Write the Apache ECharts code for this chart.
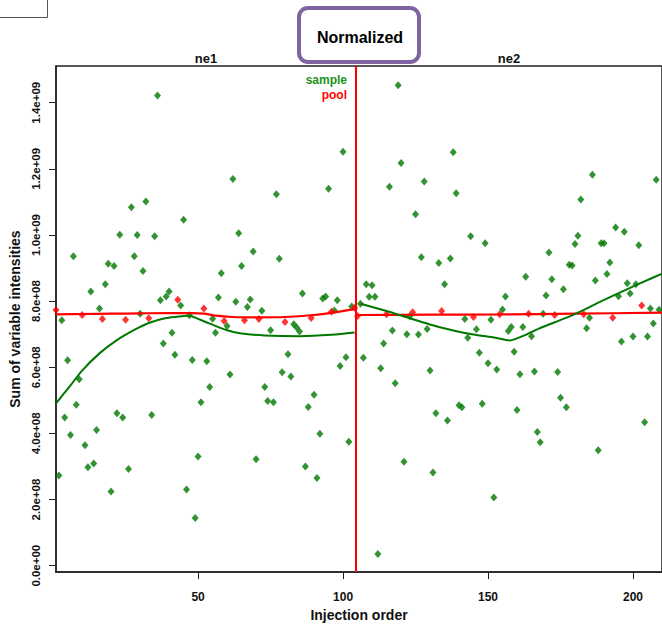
<!DOCTYPE html>
<html><head><meta charset="utf-8">
<script src="https://cdn.jsdelivr.net/npm/echarts@6/dist/echarts.min.js"></script>
<style>html,body{margin:0;padding:0;background:#fff}#c{width:662px;height:627px}</style>
</head><body><div id="c"></div>
<script>
// ---- data (values in units of 1e8) ----
const sampleOrder = [2,3,4,5,6,7,8,9,11,12,13,14,15,16,18,19,20,21,22,23,24,26,27,28,29,30,31,32,34,35,36,37,38,39,40,41,42,44,45,46,47,48,49,50,51,53,54,55,56,57,58,60,61,62,63,64,65,67,68,69,70,72,73,74,75,76,77,78,79,81,82,83,84,85,86,87,88,90,91,92,93,94,95,97,98,99,100,101,102,103,
  106,107,108,109,110,111,112,113,114,116,117,118,119,120,121,122,123,125,126,127,128,129,130,131,132,133,135,136,137,138,139,140,141,142,143,144,146,147,148,149,150,151,152,153,155,156,157,158,159,160,161,162,163,165,166,167,168,169,170,171,172,174,175,176,177,178,179,180,181,182,184,185,186,187,188,189,190,191,192,194,195,196,197,198,199,200,201,202,204,205,206,207,208,209];
const sampleValue = [2.73,7.42,4.48,6.21,3.95,9.36,4.87,5.64,3.64,2.98,8.29,3.09,4.10,7.78,8.51,9.13,2.24,9.06,4.61,10.01,4.48,2.92,10.84,9.36,10.00,7.62,8.91,11.01,4.56,9.96,14.22,8.03,6.72,8.14,8.29,7.04,6.38,7.87,10.46,2.30,7.57,6.22,1.44,3.30,4.94,6.18,5.40,7.47,7.04,8.11,8.84,7.25,5.78,11.69,7.98,10.05,9.06,7.82,8.05,9.50,3.22,7.71,5.40,4.98,7.12,4.94,11.23,9.28,5.85,6.39,5.72,7.30,7.20,7.08,8.23,3.00,4.80,5.17,2.65,3.99,8.08,8.14,11.40,7.72,8.03,6.04,12.52,6.30,3.75,7.84,
  7.92,6.29,8.51,8.13,8.48,8.13,0.35,5.97,6.72,11.46,7.11,5.52,14.53,12.18,3.14,7.00,7.54,10.63,6.99,9.33,11.62,7.16,5.90,2.82,4.61,9.15,8.51,4.39,9.29,12.50,11.26,4.85,4.79,7.46,6.89,9.96,7.15,6.44,4.90,9.75,6.12,7.44,2.06,5.93,7.75,8.14,7.10,7.22,6.47,4.71,5.79,7.22,8.74,6.94,5.87,4.04,3.73,7.62,8.17,9.47,8.66,5.86,5.08,8.36,4.79,9.10,9.08,9.73,9.98,11.07,7.18,7.50,11.82,8.62,3.49,9.75,9.75,8.82,9.17,10.23,8.15,6.78,10.10,8.54,8.23,6.93,8.51,9.69,4.34,6.93,7.78,7.32,11.67,7.74];
const poolOrder = [1,10,17,25,33,43,52,59,66,71,80,89,96,104,105,115,124,134,145,154,164,173,183,193,203];
const poolValue = [7.73,7.58,7.46,7.44,7.48,8.04,7.78,7.40,7.42,7.46,7.37,7.49,7.68,7.80,7.55,7.60,7.66,7.70,7.52,7.60,7.62,7.58,7.60,7.50,7.87];
// fitted trends
const sampleTrendOrder1 = [1,3,6,10,16,22,28,33,39,45,47,49,54,60,65,73,85,96,104];
const sampleTrendValue1 = [4.91,5.13,5.45,5.90,6.42,6.82,7.13,7.34,7.49,7.55,7.56,7.50,7.32,7.12,7.02,6.96,6.94,6.98,7.05];
const sampleTrendOrder2 = [106,115,122,133,145,152,157.5,163,167.5,173,179,185,190,196,202,210];
const sampleTrendValue2 = [7.92,7.70,7.51,7.22,6.99,6.90,6.81,6.98,7.17,7.36,7.57,7.82,8.04,8.28,8.52,8.83];
const poolTrendOrder1 = [1,10,20,30,40,48,52,56,62,70,80,90,97,104];
const poolTrendValue1 = [7.60,7.61,7.62,7.63,7.64,7.64,7.62,7.56,7.52,7.51,7.52,7.58,7.66,7.76];
const poolTrendOrder2 = [105,130,155,180,210];
const poolTrendValue2 = [7.58,7.59,7.60,7.62,7.65];
const batchNames = ['ne1','ne2'];
const batchStart = [1,104.5];
const batchEnd = [104.5,210];
const batchBoundary = 104.5;
const xTickValues = [50,100,150,200];
const yTickValues = [0,2,4,6,8,10,12,14];
const yTickLabels = ['0.0e+00','2.0e+08','4.0e+08','6.0e+08','8.0e+08','1.0e+09','1.2e+09','1.4e+09'];

const GREEN = '#007800', RED = '#FF0000', FONT = '"Liberation Sans", Arial, sans-serif';
const zip = (a, b) => a.map((v, i) => [v, b[i]]);
const batchCenters = batchStart.map((s, i) => (s + batchEnd[i]) / 2);

const chart = echarts.init(document.getElementById('c'), null, {renderer: 'svg'});
chart.setOption({
  animation: false,
  backgroundColor: '#fff',
  textStyle: {fontFamily: FONT},
  grid: {left: 56, top: 66, width: 607.4, height: 512, show: true, borderColor: '#222', borderWidth: 1.5, containLabel: false},
  xAxis: [{
    type: 'value', min: 1, max: 210, position: 'bottom',
    name: 'Injection order', nameLocation: 'middle', nameGap: 33,
    nameTextStyle: {fontSize: 14, fontWeight: 'bold', color: '#111', fontFamily: FONT},
    axisLine: {show: true, onZero: false, lineStyle: {color: '#222', width: 1.5}},
    axisTick: {show: true, length: 7, customValues: xTickValues, lineStyle: {color: '#222'}},
    axisLabel: {customValues: xTickValues, margin: 19, fontSize: 12, fontWeight: 'bold', color: '#111', fontFamily: FONT},
    splitLine: {show: false}
  }, {
    type: 'value', min: 1, max: 210, position: 'top',
    axisLine: {show: false}, axisTick: {show: false},
    axisLabel: {customValues: batchCenters, margin: 1, fontSize: 13, fontWeight: 'bold', color: '#111', fontFamily: FONT,
      formatter: v => batchNames[batchCenters.indexOf(v)] || ''},
    splitLine: {show: false}
  }],
  yAxis: {
    type: 'value', min: -0.194, max: 15.11,
    name: 'Sum of variable intensities', nameLocation: 'middle', nameGap: 32, nameRotate: 90,
    nameTextStyle: {fontSize: 14, fontWeight: 'bold', color: '#111', fontFamily: FONT},
    axisLine: {show: true, onZero: false, lineStyle: {color: '#222', width: 1.5}},
    axisTick: {show: true, length: 7, customValues: yTickValues, lineStyle: {color: '#222'}},
    axisLabel: {customValues: yTickValues, rotate: 90, margin: 14, fontSize: 11.5, fontWeight: 'bold', color: '#111', fontFamily: FONT,
      formatter: v => yTickLabels[yTickValues.indexOf(v)] || ''},
    splitLine: {show: false}
  },
  series: [
    {type: 'scatter', name: 'sample', data: zip(sampleOrder, sampleValue), symbol: 'diamond', symbolSize: [7, 8], itemStyle: {color: GREEN}, z: 2},
    {type: 'scatter', name: 'pool', data: zip(poolOrder, poolValue), symbol: 'diamond', symbolSize: [7, 8], itemStyle: {color: RED}, z: 2},
    {type: 'line', data: zip(poolTrendOrder1, poolTrendValue1), smooth: 0.3, showSymbol: false, lineStyle: {color: RED, width: 2.2}, z: 3},
    {type: 'line', data: zip(poolTrendOrder2, poolTrendValue2), smooth: 0.3, showSymbol: false, lineStyle: {color: RED, width: 2.2}, z: 3},
    {type: 'line', data: zip(sampleTrendOrder1, sampleTrendValue1), smooth: 0.3, showSymbol: false, lineStyle: {color: GREEN, width: 2}, z: 4},
    {type: 'line', data: zip(sampleTrendOrder2, sampleTrendValue2), smooth: 0.2, showSymbol: false, lineStyle: {color: GREEN, width: 2}, z: 4,
      markLine: {silent: true, symbol: 'none', label: {show: false}, lineStyle: {color: RED, width: 2, type: 'solid'},
        data: [{xAxis: batchBoundary}]}}
  ],
  graphic: [
    {type: 'rect', left: -2, top: -2, shape: {width: 49, height: 19}, style: {fill: '#fff', stroke: '#555', lineWidth: 1}},
    {type: 'text', right: 662 - 347, top: 74, style: {text: 'sample', fill: '#1a931a', font: 'bold 12px ' + FONT}},
    {type: 'text', right: 662 - 347, top: 89, style: {text: 'pool', fill: RED, font: 'bold 12px ' + FONT}},
    {type: 'rect', x: 299, y: 8, shape: {width: 120, height: 54, r: 9}, style: {fill: '#fff', stroke: '#8064A2', lineWidth: 4}, z: 100},
    {type: 'text', x: 360, y: 37, style: {text: 'Normalized', fill: '#000', font: 'bold 16px ' + FONT, align: 'center', verticalAlign: 'middle'}, z: 101}
  ]
});
</script></body></html>
